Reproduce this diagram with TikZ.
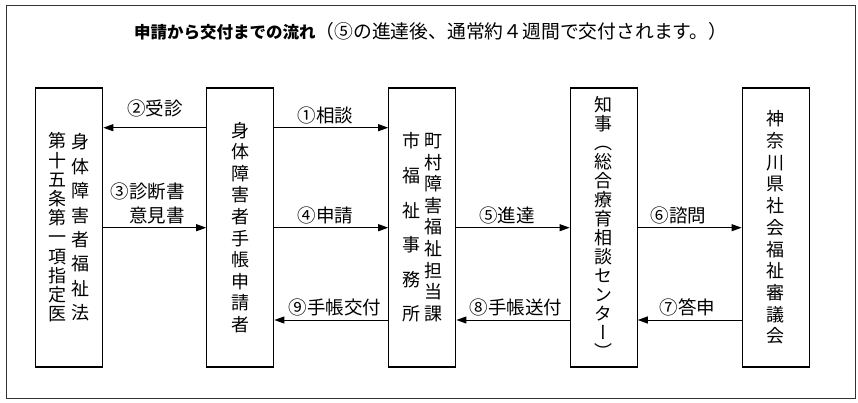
\documentclass[tikz,border=0pt]{standalone}
\usepackage{fontspec}
\setmainfont{Noto Sans CJK JP}
\newfontfamily\tatefont[RawFeature=+vert]{Noto Sans CJK JP}
\usetikzlibrary{arrows.meta}

\makeatletter
\newcommand\tate[2]{\ensuremath{\vcenter{\baselineskip=#1\lineskiplimit=-\maxdimen
	\@tfor\tatechar:=#2\do{\hbox to 1em{\hss\tatechar\hss}}}}}
\makeatother

\tikzset{
	box/.style={draw, line width=1.2pt, minimum width=67pt, minimum height=279pt, inner sep=0pt, font=\tatefont\fontsize{18}{18}\selectfont},
	arr/.style={-{Triangle[length=10pt,width=7pt]}, line width=1pt},
	lbl/.style={above=3.5pt, inner sep=0pt, font=\fontsize{18.5}{23.3}\selectfont}
}

\begin{document}
\begin{tikzpicture}[x=1pt, y=-1pt]
\useasboundingbox (0,0) rectangle (858,403);
%frame
	\draw[line width=1.3pt, black!80] (6.5,5.7) rectangle (855.7,398.5);
	\node[anchor=west, inner sep=0pt] (title) at (134,31.7) {{\fontsize{16.5}{18}\bfseries 申請から交付までの流れ}\fontsize{18.8}{18}\selectfont （⑤の進達後、通常約４週間で交付されます。）};

%rows
	\coordinate (r1) at (0,127.7);
	\coordinate (r2) at (0,227.7);
	\coordinate (r3) at (0,320);

%boxes
	\node[box] (doc) at (69.2,227.5) {\tate{19.2pt}{第十五条第一項指定医}\hspace{5.3pt}\tate{24.4pt}{身体障害者福祉法}};
	\node[box] (app) at (240.3,227.5) {\tate{21.6pt}{身体障害者手帳申請者}};
	\node[box] (city) at (422.3,227.5) {\tate{34.6pt}{市福祉事務所}\hspace{3.6pt}\tate{21.6pt}{町村障害福祉担当課}};
	\node[box] (gov) at (603.7,227.5) {\tate{19pt}{知事（総合療育相談センター）}};
	\node[box] (cnl) at (775.7,227.5) {\tate{21.7pt}{神奈川県社会福祉審議会}};

%arrows
	\draw[arr] (app.west |- r1) -- node[lbl, above=6.5pt] {②受診} (doc.east |- r1);
	\draw[arr] (doc.east |- r2) -- node[lbl, align=right, xshift=-7pt] {③診断書\\意見書} (app.west |- r2);

	\draw[arr] (app.east |- r1) -- node[lbl, xshift=-6pt] {①相談} (city.west |- r1);
	\draw[arr] (app.east |- r2) -- node[lbl, xshift=-6pt] {④申請} (city.west |- r2);
	\draw[arr] (city.west |- r3) -- node[lbl, xshift=3.5pt] {⑨手帳交付} (app.east |- r3);

	\draw[arr] (city.east |- r2) -- node[lbl, xshift=-6pt] {⑤進達} (gov.west |- r2);
	\draw[arr] (gov.west |- r3) -- node[lbl, xshift=3pt] {⑧手帳送付} (city.east |- r3);

	\draw[arr] (gov.east |- r2) -- node[lbl, xshift=-11pt] {⑥諮問} (cnl.west |- r2);
	\draw[arr] (cnl.west |- r3) -- node[lbl, xshift=-2pt] {⑦答申} (gov.east |- r3);

\end{tikzpicture}
\end{document}
